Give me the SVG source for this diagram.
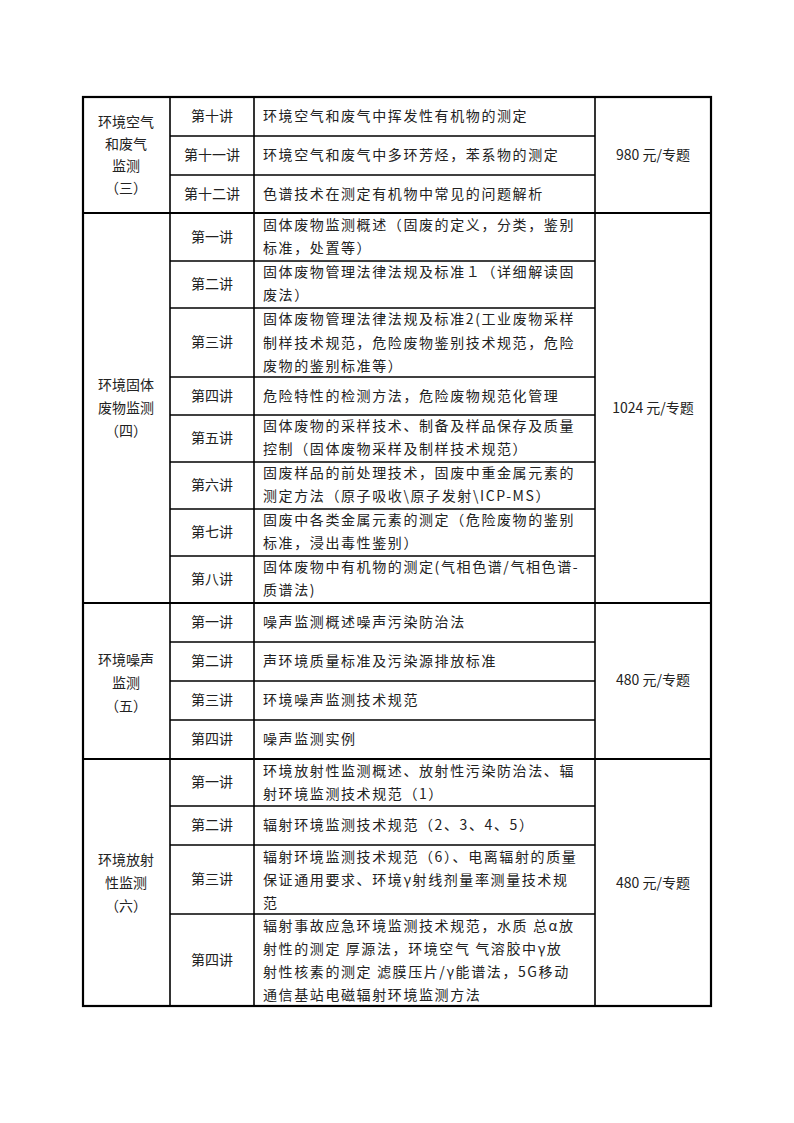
<svg xmlns="http://www.w3.org/2000/svg" width="794" height="1123" viewBox="0 0 794 1123">
<style>
text{font-family:"Noto Sans CJK SC","Liberation Sans",sans-serif;font-size:14px;fill:#222}
.c{text-anchor:middle}
.d{letter-spacing:1.6px}
line{stroke:#000;stroke-width:1.6}
.b{stroke-width:2.2}
</style>
<rect width="794" height="1123" fill="#fff"/>
<g id="grid">
<rect x="83" y="97" width="628" height="909" fill="none" stroke="#000" stroke-width="2.2"/>
<line x1="170" y1="97" x2="170" y2="1006"/>
<line x1="254" y1="97" x2="254" y2="1006"/>
<line x1="595" y1="97" x2="595" y2="1006"/>
<line class="b" x1="83" y1="213" x2="711" y2="213"/>
<line class="b" x1="83" y1="603" x2="711" y2="603"/>
<line class="b" x1="83" y1="759" x2="711" y2="759"/>
<g>
<line x1="170" y1="136" x2="595" y2="136"/><line x1="170" y1="175" x2="595" y2="175"/>
<line x1="170" y1="261" x2="595" y2="261"/><line x1="170" y1="308" x2="595" y2="308"/>
<line x1="170" y1="377" x2="595" y2="377"/><line x1="170" y1="415" x2="595" y2="415"/>
<line x1="170" y1="462" x2="595" y2="462"/><line x1="170" y1="509" x2="595" y2="509"/>
<line x1="170" y1="556" x2="595" y2="556"/>
<line x1="170" y1="642" x2="595" y2="642"/><line x1="170" y1="681" x2="595" y2="681"/>
<line x1="170" y1="720" x2="595" y2="720"/>
<line x1="170" y1="806" x2="595" y2="806"/><line x1="170" y1="845" x2="595" y2="845"/>
<line x1="170" y1="914" x2="595" y2="914"/>
</g>
</g>
<g id="sec3">
<text class="c" x="126"><tspan x="126" y="127">环境空气</tspan><tspan x="126" y="149">和废气</tspan><tspan x="126" y="171">监测</tspan><tspan x="126" y="193">（三）</tspan></text>
<text class="c" x="212" y="121">第十讲</text><text class="c" x="212" y="160">第十一讲</text><text class="c" x="212" y="199">第十二讲</text>
<text class="d" x="263" y="121">环境空气和废气中挥发性有机物的测定</text>
<text class="d" x="263" y="160">环境空气和废气中多环芳烃，苯系物的测定</text>
<text class="d" x="263" y="199">色谱技术在测定有机物中常见的问题解析</text>
<text class="c" x="653" y="160">980 元/专题</text>
</g>
<g id="sec4">
<text class="c"><tspan x="126" y="390">环境固体</tspan><tspan x="126" y="413">废物监测</tspan><tspan x="126" y="436">（四）</tspan></text>
<text class="c" x="212" y="242">第一讲</text><text class="c" x="212" y="289">第二讲</text><text class="c" x="212" y="347">第三讲</text>
<text class="c" x="212" y="401">第四讲</text><text class="c" x="212" y="443">第五讲</text><text class="c" x="212" y="490">第六讲</text>
<text class="c" x="212" y="537">第七讲</text><text class="c" x="212" y="584">第八讲</text>
<text class="d"><tspan x="263" y="230">固体废物监测概述（固废的定义，分类，鉴别</tspan><tspan x="263" y="253">标准，处置等）</tspan></text>
<text class="d"><tspan x="263" y="277">固体废物管理法律法规及标准１（详细解读固</tspan><tspan x="263" y="300">废法）</tspan></text>
<text class="d"><tspan x="263" y="324">固体废物管理法律法规及标准2(工业废物采样</tspan><tspan x="263" y="348">制样技术规范，危险废物鉴别技术规范，危险</tspan><tspan x="263" y="371">废物的鉴别标准等）</tspan></text>
<text class="d" x="263" y="401">危险特性的检测方法，危险废物规范化管理</text>
<text class="d"><tspan x="263" y="431">固体废物的采样技术、制备及样品保存及质量</tspan><tspan x="263" y="454">控制（固体废物采样及制样技术规范）</tspan></text>
<text class="d"><tspan x="263" y="478">固废样品的前处理技术，固废中重金属元素的</tspan><tspan x="263" y="501">测定方法（原子吸收\原子发射\ICP-MS）</tspan></text>
<text class="d"><tspan x="263" y="525">固废中各类金属元素的测定（危险废物的鉴别</tspan><tspan x="263" y="548">标准，浸出毒性鉴别）</tspan></text>
<text class="d"><tspan x="263" y="572">固体废物中有机物的测定(气相色谱/气相色谱-</tspan><tspan x="263" y="595">质谱法)</tspan></text>
<text class="c" x="653" y="413">1024 元/专题</text>
</g>
<g id="sec5">
<text class="c"><tspan x="126" y="665">环境噪声</tspan><tspan x="126" y="688">监测</tspan><tspan x="126" y="711">（五）</tspan></text>
<text class="c" x="212" y="627">第一讲</text><text class="c" x="212" y="666">第二讲</text><text class="c" x="212" y="705">第三讲</text><text class="c" x="212" y="744">第四讲</text>
<text class="d" x="263" y="627">噪声监测概述噪声污染防治法</text>
<text class="d" x="263" y="666">声环境质量标准及污染源排放标准</text>
<text class="d" x="263" y="705">环境噪声监测技术规范</text>
<text class="d" x="263" y="744">噪声监测实例</text>
<text class="c" x="653" y="685">480 元/专题</text>
</g>
<g id="sec6">
<text class="c"><tspan x="126" y="865">环境放射</tspan><tspan x="126" y="888">性监测</tspan><tspan x="126" y="911">（六）</tspan></text>
<text class="c" x="212" y="787">第一讲</text><text class="c" x="212" y="830">第二讲</text><text class="c" x="212" y="884">第三讲</text><text class="c" x="212" y="965">第四讲</text>
<text class="d"><tspan x="263" y="776">环境放射性监测概述、放射性污染防治法、辐</tspan><tspan x="263" y="799">射环境监测技术规范（1）</tspan></text>
<text class="d" x="263" y="830">辐射环境监测技术规范（2、3、4、5）</text>
<text class="d"><tspan x="263" y="862">辐射环境监测技术规范（6）、电离辐射的质量</tspan><tspan x="263" y="885">保证通用要求、环境γ射线剂量率测量技术规</tspan><tspan x="263" y="908">范</tspan></text>
<text class="d"><tspan x="263" y="931">辐射事故应急环境监测技术规范，水质 总α放</tspan><tspan x="263" y="954">射性的测定 厚源法，环境空气 气溶胶中γ放</tspan><tspan x="263" y="977">射性核素的测定 滤膜压片/γ能谱法，5G移动</tspan><tspan x="263" y="1000">通信基站电磁辐射环境监测方法</tspan></text>
<text class="c" x="653" y="888">480 元/专题</text>
</g>
</svg>
